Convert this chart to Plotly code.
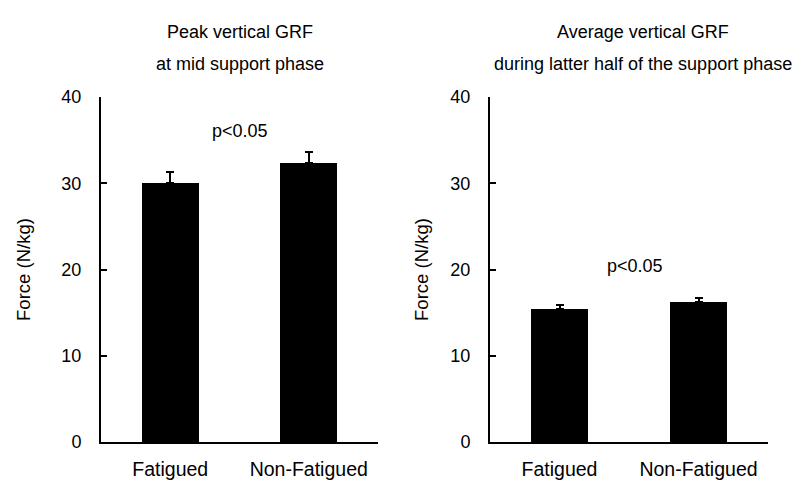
import plotly.graph_objects as go

categories = ["Fatigued", "Non-Fatigued"]
peak_mean = [30.0, 32.4]
peak_sd = [1.3, 1.2]
avg_mean = [15.4, 16.3]
avg_sd = [0.5, 0.45]
y_ticks = [0, 10, 20, 30, 40]
left_title = ["Peak vertical GRF", "at mid support phase"]
right_title = ["Average vertical GRF", "during latter half of the support phase"]
p_label = "p<0.05"
y_title = "Force (N/kg)"

FONT = "Liberation Sans, Arial, sans-serif"
W, H = 805, 491

fig = go.Figure()
for mean, sd, xa, ya in [(peak_mean, peak_sd, "x", "y"), (avg_mean, avg_sd, "x2", "y2")]:
    fig.add_trace(go.Bar(
        x=categories, y=mean, width=0.41,
        marker=dict(color="black", line=dict(width=0)),
        error_y=dict(type="data", symmetric=False, array=sd, arrayminus=[0] * len(sd),
                     color="black", thickness=2, width=4),
        xaxis=xa, yaxis=ya, showlegend=False, hoverinfo="skip",
    ))

ydom = [1 - 450.5 / H, 1 - 90.7 / H]
xax = dict(showline=True, linecolor="black", linewidth=2, ticks="", showgrid=False,
           zeroline=False, range=[-0.5, 1.5], tickfont=dict(family=FONT, size=19.5, color="black"),
           ticklabelstandoff=8)
yax = dict(showline=True, linecolor="black", linewidth=2, ticks="inside", ticklen=6, tickwidth=2,
           tickcolor="black", showgrid=False, zeroline=False, range=[0, 40], tickvals=y_ticks,
           tickfont=dict(family=FONT, size=18, color="black"), ticklabelstandoff=14)

fig.update_layout(
    width=W, height=H, margin=dict(l=0, r=0, t=0, b=0),
    plot_bgcolor="white", paper_bgcolor="white", bargap=0,
    xaxis=dict(xax, domain=[101 / W, 378 / W], anchor="y"),
    yaxis=dict(yax, domain=ydom, anchor="x"),
    xaxis2=dict(xax, domain=[490 / W, 768 / W], anchor="y2"),
    yaxis2=dict(yax, domain=ydom, anchor="x2"),
)

ann = []
for cx, lines in [(239.5, left_title), (643, right_title)]:
    for cy, t in zip([23, 56], lines):
        ann.append(dict(text=t, x=cx / W, y=1 - cy / H, xref="paper", yref="paper",
                        xanchor="center", yanchor="middle", showarrow=False,
                        font=dict(family=FONT, size=18, color="black")))
for cx in [24, 422]:
    ann.append(dict(text=y_title, x=cx / W, y=1 - 271 / H, xref="paper", yref="paper",
                    textangle=-90, xanchor="center", yanchor="middle", showarrow=False,
                    font=dict(family=FONT, size=18.5, color="black")))
ann.append(dict(text=p_label, x=0.5, y=36.1, xref="x", yref="y", showarrow=False,
                xanchor="center", yanchor="middle", font=dict(family=FONT, size=18, color="black")))
ann.append(dict(text=p_label, x=0.54, y=20.4, xref="x2", yref="y2", showarrow=False,
                xanchor="center", yanchor="middle", font=dict(family=FONT, size=18, color="black")))
fig.update_layout(annotations=ann)

fig.write_html("out.html", config={"displayModeBar": False},
               post_script="document.body.style.margin='0';document.body.style.overflow='hidden';")
